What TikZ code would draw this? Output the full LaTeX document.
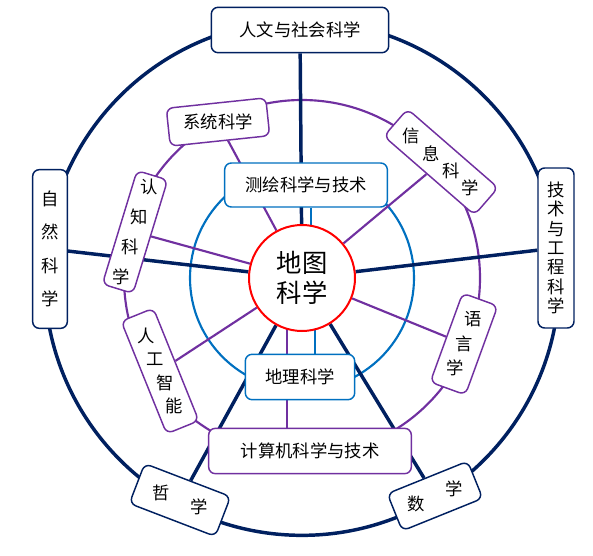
\documentclass[tikz,border=0pt]{standalone}
\usepackage{fontspec}
\setmainfont{Noto Sans CJK SC}
\usetikzlibrary{calc,backgrounds}
\definecolor{navy}{RGB}{0,32,96}
\definecolor{violet2}{RGB}{112,48,160}
\definecolor{skyblue}{RGB}{0,112,192}
\newcommand{\upc}[2]{\rotatebox[origin=c]{#1}{#2}}

\begin{document}
\begin{tikzpicture}[
    x=0.75pt, y=-0.75pt,
    box/.style={draw, rounded corners=5pt, fill=white, line width=1.1pt,
        inner sep=0pt, align=center, font=\fontsize{13pt}{16pt}\selectfont},
    outer box/.style={box, draw=navy},
    mid box/.style={box, draw=violet2},
    inner box/.style={box, draw=skyblue},
    spoke/.style={navy, line width=2.6pt},
    mid line/.style={violet2, line width=1.6pt},
    inner line/.style={skyblue, line width=1.6pt}
]

% FIXED BOUNDING BOX
\path[use as bounding box] (0,0) rectangle (593,556);

% centre
\node[circle, draw=red, line width=1.5pt, fill=white, minimum size=79.5pt,
    inner sep=0pt, align=center, font=\fontsize{19pt}{23pt}\selectfont]
    (dt) at (302,278) {地图\\科学};

% outer ring
\node[outer box, minimum width=133pt, minimum height=34pt] (rw) at (300,30) {人文与社会科学};
\node[outer box, minimum width=26pt, minimum height=119pt,
    font=\fontsize{13pt}{25pt}\selectfont] (zr) at (50,249) {自\\然\\科\\学};
\node[outer box, minimum width=27pt, minimum height=120pt,
    font=\fontsize{13pt}{14.5pt}\selectfont] (js) at (556,248) {技\\术\\与\\工\\程\\科\\学};
\node[outer box, rotate=-21, minimum width=69pt, minimum height=32pt]
    (zx) at (180,500) {\upc{21}{哲}\hspace{14pt}\upc{21}{学}};
\node[outer box, rotate=22, minimum width=65pt, minimum height=30pt]
    (sx) at (435,496) {\upc{-22}{数}\hspace{14pt}\upc{-22}{学}};

% middle ring
\node[mid box, rotate=6, minimum width=75pt, minimum height=28.5pt]
    (xt) at (218,122) {\upc{-6}{系统科学}};
\node[mid box, rotate=-17, minimum width=24pt, minimum height=89pt,
    font=\fontsize{13pt}{23.5pt}\selectfont]
    (rz) at (135,232) {\upc{17}{认}\\\upc{17}{知}\\\upc{17}{科}\\\upc{17}{学}};
\node[mid box, rotate=22, minimum width=26pt, minimum height=91pt,
    font=\fontsize{13pt}{19pt}\selectfont]
    (rg) at (160,371) {\upc{-22}{人}\\\upc{-22}{工}\\\upc{-22}{智}\\\upc{-22}{能}};
\node[mid box, rotate=-20, minimum width=28pt, minimum height=71pt,
    font=\fontsize{13pt}{19.5pt}\selectfont]
    (yy) at (464,344) {\upc{20}{语}\\\upc{20}{言}\\\upc{20}{学}};
\node[mid box, rotate=-41, minimum width=90pt, minimum height=27pt]
    (xx) at (441,162) {\upc{41}{信}\hspace{2pt}\upc{41}{息}\hspace{2pt}\upc{41}{科}\hspace{2pt}\upc{41}{学}};
\node[mid box, minimum width=152pt, minimum height=34pt] (jsj) at (310,451) {计算机科学与技术};

% inner ring
\node[inner box, minimum width=122pt, minimum height=33pt] (ch) at (306,185) {测绘科学与技术};
\node[inner box, minimum width=82pt, minimum height=34pt] (dl) at (300,377) {地理科学};

\begin{scope}[on background layer]
    \draw[spoke] (dt.center) circle[radius=193pt];
    \draw[mid line] (dt.center) circle[radius=133.5pt];
    \draw[inner line] (dt.center) circle[radius=84pt];
    \foreach \b in {rw, zr, js, zx, sx} \draw[spoke] (dt) -- (\b);
    \foreach \b in {xt, rz, rg, yy, xx} \draw[mid line] (dt) -- (\b);
    \draw[mid line] ([xshift=-11pt]dt.center) -- ([xshift=-11pt]dt.center |- jsj.north);
    \draw[inner line] ([xshift=4pt]ch.south) -- ([xshift=4pt]ch.south |- dt.center);
    \draw[inner line] ([xshift=11pt]dl.north) -- ([xshift=11pt]dl.north |- dt.center);
\end{scope}

\end{tikzpicture}
\end{document}
